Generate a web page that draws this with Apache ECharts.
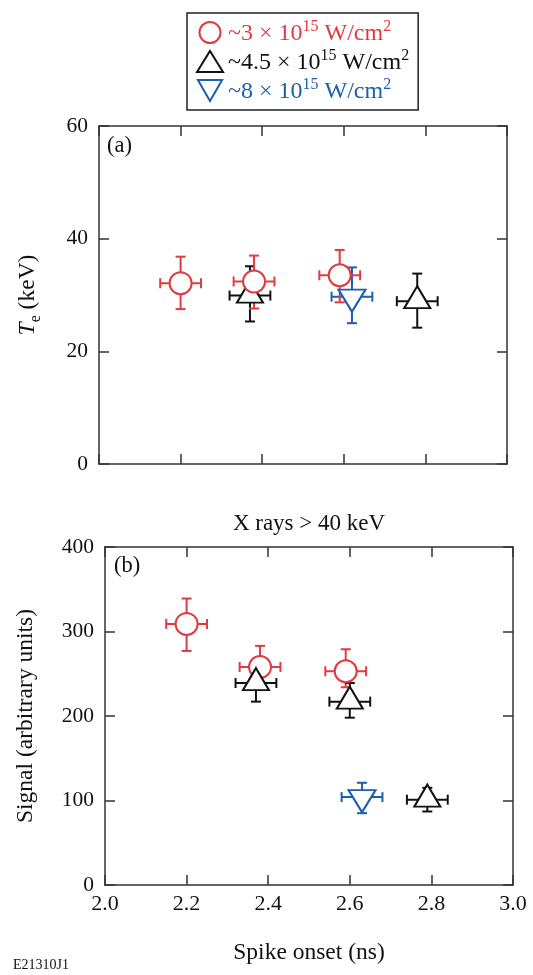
<!DOCTYPE html>
<html>
<head>
<meta charset="utf-8">
<script src="https://cdn.jsdelivr.net/npm/echarts@6/dist/echarts.min.js"></script>
<style>
  html, body { margin: 0; padding: 0; background: #fff; }
  #chart { width: 533px; height: 975px; }
</style>
</head>
<body>
<div id="chart"></div>
<script>
// ---- Data ----------------------------------------------------------------
// Legend entries (laser intensity groups)
const groupNames = ['~3 × 10^15 W/cm^2', '~4.5 × 10^15 W/cm^2', '~8 × 10^15 W/cm^2'];
const groupMantissa = ['~3', '~4.5', '~8'];
const groupExponent = '15';
const unitBase = 'W/cm';
const unitExponent = '2';

// X axis ticks (spike onset, ns)
const xMin = 2.0, xMax = 3.0, xStep = 0.2;

// Panel (a): electron temperature T_e (keV)
const teTicks = { min: 0, max: 60, step: 20 };
const teRedX     = [2.20, 2.38, 2.59];
const teRedXErr  = [0.05, 0.05, 0.05];
const teRedY     = [32.1, 32.4, 33.5];
const teRedYLo   = [27.5, 27.6, 28.7];
const teRedYHi   = [36.8, 37.0, 38.0];

const teBlackX    = [2.37, 2.78];
const teBlackXErr = [0.05, 0.05];
const teBlackY    = [29.9, 28.9];
const teBlackYLo  = [25.3, 24.2];
const teBlackYHi  = [35.1, 33.8];

const teBlueX    = [2.62];
const teBlueXErr = [0.05];
const teBlueY    = [29.7];
const teBlueYLo  = [25.0];
const teBlueYHi  = [34.9];

// Panel (b): hard x-ray signal > 40 keV (arbitrary units)
const sigTicks = { min: 0, max: 400, step: 100 };
const sigRedX     = [2.20, 2.38, 2.59];
const sigRedXErr  = [0.05, 0.05, 0.05];
const sigRedY     = [309, 258, 253];
const sigRedYLo   = [277, 233, 234];
const sigRedYHi   = [339, 283, 279];

const sigBlackX    = [2.37, 2.60, 2.79];
const sigBlackXErr = [0.05, 0.05, 0.05];
const sigBlackY    = [239, 217, 101];
const sigBlackYLo  = [217, 198, 87];
const sigBlackYHi  = [261, 239, 115];

const sigBlueX    = [2.63];
const sigBlueXErr = [0.05];
const sigBlueY    = [104];
const sigBlueYLo  = [85];
const sigBlueYHi  = [121];

// ---- Styling ---------------------------------------------------------------
const FONT = '"Liberation Serif", "Times New Roman", serif';
const RED = '#e03b40';
const BLACK = '#111111';
const BLUE = '#1d5ead';
const AXIS = '#333333';
const groupColors = [RED, BLACK, BLUE];
const DOWN_TRI = 'path://M0,0L2,0L1,1.732Z';
const groupIcons = ['circle', 'triangle', DOWN_TRI];

const chart = echarts.init(document.getElementById('chart'), null, { renderer: 'canvas' });

const grids = [
  { left: 99, top: 126, width: 408, height: 338 },
  { left: 105, top: 547, width: 408, height: 338 }
];

function xAxisPair(gridIndex, showLabels) {
  const base = {
    type: 'value', gridIndex, min: xMin, max: xMax, interval: xStep,
    axisLine: { show: true, onZero: false, lineStyle: { color: AXIS, width: 1.5 } },
    axisTick: { show: true, inside: true, length: 10, lineStyle: { color: AXIS, width: 1.5 } },
    splitLine: { show: false }
  };
  return [
    Object.assign({}, base, {
      position: 'bottom',
      axisLabel: {
        show: showLabels, margin: 8, fontFamily: FONT, fontSize: 22, color: '#111',
        formatter: v => v.toFixed(1)
      },
      name: showLabels ? 'Spike onset (ns)' : '',
      nameLocation: 'middle', nameGap: 56,
      nameTextStyle: { fontFamily: FONT, fontSize: 23.5, color: '#111' }
    }),
    Object.assign({}, base, { position: 'top', axisLabel: { show: false } })
  ];
}

function yAxisPair(gridIndex, ticks, name, nameGap, rich) {
  const base = {
    type: 'value', gridIndex, min: ticks.min, max: ticks.max, interval: ticks.step,
    axisLine: { show: true, onZero: false, lineStyle: { color: AXIS, width: 1.5 } },
    axisTick: { show: true, inside: true, length: 10, lineStyle: { color: AXIS, width: 1.5 } },
    splitLine: { show: false }
  };
  return [
    Object.assign({}, base, {
      position: 'left',
      axisLabel: { show: true, margin: 11, fontFamily: FONT, fontSize: 21.5, color: '#111' },
      name, nameLocation: 'middle', nameGap, nameRotate: 90,
      nameTextStyle: { fontFamily: FONT, fontSize: 23.5, color: '#111', rich }
    }),
    Object.assign({}, base, { position: 'right', axisLabel: { show: false } })
  ];
}

// Marker definitions for the three groups
const markerDefs = [
  { symbol: 'circle', symbolSize: 22, symbolOffset: [0, 0] },
  { symbol: 'triangle', symbolSize: [26, 22], symbolOffset: [0, -4] },
  { symbol: DOWN_TRI, symbolSize: [27, 22], symbolOffset: [0, 4] }
];

function zip(xs, ys) { return xs.map((x, i) => [x, ys[i]]); }

function scatterSeries(gi, name, xs, ys, axisIdx, z) {
  const m = markerDefs[gi];
  return {
    type: 'scatter', name, xAxisIndex: axisIdx, yAxisIndex: axisIdx,
    data: zip(xs, ys),
    symbol: m.symbol, symbolSize: m.symbolSize, symbolOffset: m.symbolOffset,
    symbolKeepAspect: false,
    itemStyle: { color: '#ffffff', borderColor: groupColors[gi], borderWidth: 2, opacity: 1 },
    emphasis: { disabled: true },
    z
  };
}

function errorBarSeries(gi, name, xs, xe, ys, lo, hi, axisIdx, z) {
  const color = groupColors[gi];
  const cap = 5;
  return {
    type: 'custom', name, xAxisIndex: axisIdx, yAxisIndex: axisIdx,
    data: xs.map((x, i) => [x, ys[i], xe[i], lo[i], hi[i]]),
    encode: { x: 0, y: 1 },
    silent: true,
    z,
    renderItem(params, api) {
      const x = api.value(0), y = api.value(1), e = api.value(2);
      const l = api.value(3), h = api.value(4);
      const pTop = api.coord([x, h]);
      const pBot = api.coord([x, l]);
      const pL = api.coord([x - e, y]);
      const pR = api.coord([x + e, y]);
      const style = { stroke: color, lineWidth: 2, fill: null };
      const line = (x1, y1, x2, y2) => ({ type: 'line', shape: { x1, y1, x2, y2 }, style });
      return {
        type: 'group',
        children: [
          line(pTop[0], pTop[1], pBot[0], pBot[1]),
          line(pTop[0] - cap, pTop[1], pTop[0] + cap, pTop[1]),
          line(pBot[0] - cap, pBot[1], pBot[0] + cap, pBot[1]),
          line(pL[0], pL[1], pR[0], pR[1]),
          line(pL[0], pL[1] - cap, pL[0], pL[1] + cap),
          line(pR[0], pR[1] - cap, pR[0], pR[1] + cap)
        ]
      };
    }
  };
}

// Axis-name rich styles
const teRich = {
  it: { fontFamily: FONT, fontSize: 23.5, fontStyle: 'italic', color: '#111', lineHeight: 28, verticalAlign: 'top' },
  sub: { fontFamily: FONT, fontSize: 16, color: '#111', lineHeight: 16, verticalAlign: 'bottom' },
  n: { fontFamily: FONT, fontSize: 23.5, color: '#111', lineHeight: 28, verticalAlign: 'top' }
};

// Legend rich styles (one normal + one superscript style per colour)
const legendRich = {};
groupColors.forEach((c, i) => {
  legendRich['n' + i] = { fontFamily: FONT, fontSize: 24, color: c, lineHeight: 27, verticalAlign: 'bottom' };
  legendRich['s' + i] = { fontFamily: FONT, fontSize: 16, color: c, lineHeight: 16, verticalAlign: 'top' };
});

const axesX = [].concat(xAxisPair(0, false), xAxisPair(1, true));
const axesY = [].concat(
  yAxisPair(0, teTicks, '{it|T}{sub|e}{n| (keV)}', 55, teRich),
  yAxisPair(1, sigTicks, 'Signal (arbitrary units)', 67, {})
);
// each grid has [bottom/left, top/right] axes: indices 0,1 for grid 0 and 2,3 for grid 1

const series = [
  // Panel (a)
  scatterSeries(1, groupNames[1], teBlackX, teBlackY, 0, 5),
  scatterSeries(2, groupNames[2], teBlueX, teBlueY, 0, 6),
  scatterSeries(0, groupNames[0], teRedX, teRedY, 0, 7),
  errorBarSeries(1, groupNames[1], teBlackX, teBlackXErr, teBlackY, teBlackYLo, teBlackYHi, 0, 2),
  errorBarSeries(2, groupNames[2], teBlueX, teBlueXErr, teBlueY, teBlueYLo, teBlueYHi, 0, 2),
  errorBarSeries(0, groupNames[0], teRedX, teRedXErr, teRedY, teRedYLo, teRedYHi, 0, 2),
  // Panel (b)
  scatterSeries(0, groupNames[0], sigRedX, sigRedY, 2, 5),
  scatterSeries(2, groupNames[2], sigBlueX, sigBlueY, 2, 6),
  scatterSeries(1, groupNames[1], sigBlackX, sigBlackY, 2, 7),
  errorBarSeries(0, groupNames[0], sigRedX, sigRedXErr, sigRedY, sigRedYLo, sigRedYHi, 2, 2),
  errorBarSeries(2, groupNames[2], sigBlueX, sigBlueXErr, sigBlueY, sigBlueYLo, sigBlueYHi, 2, 2),
  errorBarSeries(1, groupNames[1], sigBlackX, sigBlackXErr, sigBlackY, sigBlackYLo, sigBlackYHi, 2, 2)
];

const titleStyle = { fontFamily: FONT, fontWeight: 'normal', color: '#111' };

const option = {
  backgroundColor: '#ffffff',
  animation: false,
  title: [
    { text: 'X rays > 40 keV', left: 309, top: 512, padding: 0, textAlign: 'center',
      textStyle: Object.assign({ fontSize: 23 }, titleStyle) },
    { text: '(a)', left: 107, top: 135, padding: 0, textStyle: Object.assign({ fontSize: 22.5 }, titleStyle) },
    { text: '(b)', left: 114, top: 555, padding: 0, textStyle: Object.assign({ fontSize: 22.5 }, titleStyle) },
    { text: 'E21310J1', left: 13, top: 958, padding: 0, textStyle: Object.assign({ fontSize: 14 }, titleStyle) }
  ],
  legend: {
    orient: 'vertical', left: 187, top: 13,
    padding: [6, 9, 6, 9],
    itemWidth: 26, itemHeight: 21, itemGap: 2,
    borderColor: '#222', borderWidth: 1.5,
    selectedMode: false,
    data: groupNames.map((n, i) => ({
      name: n, icon: groupIcons[i],
      itemStyle: { color: '#ffffff', borderColor: groupColors[i], borderWidth: 2 }
    })),
    formatter: name => {
      const i = groupNames.indexOf(name);
      return `{n${i}|${groupMantissa[i]} × 10}{s${i}|${groupExponent}}{n${i}| ${unitBase}}{s${i}|${unitExponent}}`;
    },
    textStyle: { fontFamily: FONT, fontSize: 24, rich: legendRich }
  },
  grid: grids.map(g => Object.assign({ show: false, containLabel: false }, g)),
  xAxis: axesX,
  yAxis: axesY,
  series
};

chart.setOption(option);
</script>
</body>
</html>
